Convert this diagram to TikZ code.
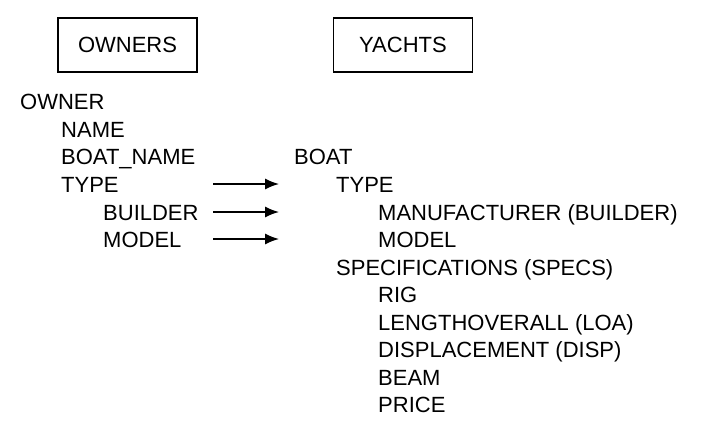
\documentclass[tikz,border=0pt]{standalone}
\usepackage{fontspec}
\setmainfont{Liberation Sans}
\usetikzlibrary{arrows.meta, positioning}
\tikzset{
  box/.style={rectangle, draw=black, line width=1.3pt, minimum width=139pt, minimum height=54pt, font=\fontsize{22}{26}\selectfont},
  item/.style={anchor=base west, inner sep=0pt, font=\fontsize{22}{26}\selectfont},
  arrow/.style={line width=1.4pt, -{Latex[length=14pt,width=11pt]}}
}
\begin{document}
\begin{tikzpicture}[x=1pt, y=-1pt]
\useasboundingbox (0,0) rectangle (702,424);
\node (owners) [box] at (127.5,45) {OWNERS};
\node (yachts) [box] at (403,45) {YACHTS};

% owners side
\node (owner) [item] at (20,109) {OWNER};
\node (name) [item] at (61,137) {NAME};
\node (boatname) [item] at (61,164) {BOAT\_NAME};
\node (type) [item] at (61,192) {TYPE};
\node (builder) [item] at (103,220) {BUILDER};
\node (model) [item] at (103,247) {MODEL};

% yachts side
\node (boat) [item] at (294,164) {BOAT};
\node (ytype) [item] at (336,192) {TYPE};
\node (manuf) [item] at (378,220) {MANUFACTURER (BUILDER)};
\node (ymodel) [item] at (378,247) {MODEL};
\node (specs) [item] at (336,275) {SPECIFICATIONS (SPECS)};
\node (rig) [item] at (378,302) {RIG};
\node (loa) [item] at (378,330) {LENGTHOVERALL (LOA)};
\node (disp) [item] at (378,357) {DISPLACEMENT (DISP)};
\node (beam) [item] at (378,385) {BEAM};
\node (price) [item] at (378,412) {PRICE};

% mapping arrows
\foreach \n/\y in {a/184, b/212, c/239} {
  \coordinate (from\n) at (213,\y);
  \coordinate (to\n) at (279,\y);
  \draw [arrow] (from\n) -- (to\n);
}
\end{tikzpicture}
\end{document}
